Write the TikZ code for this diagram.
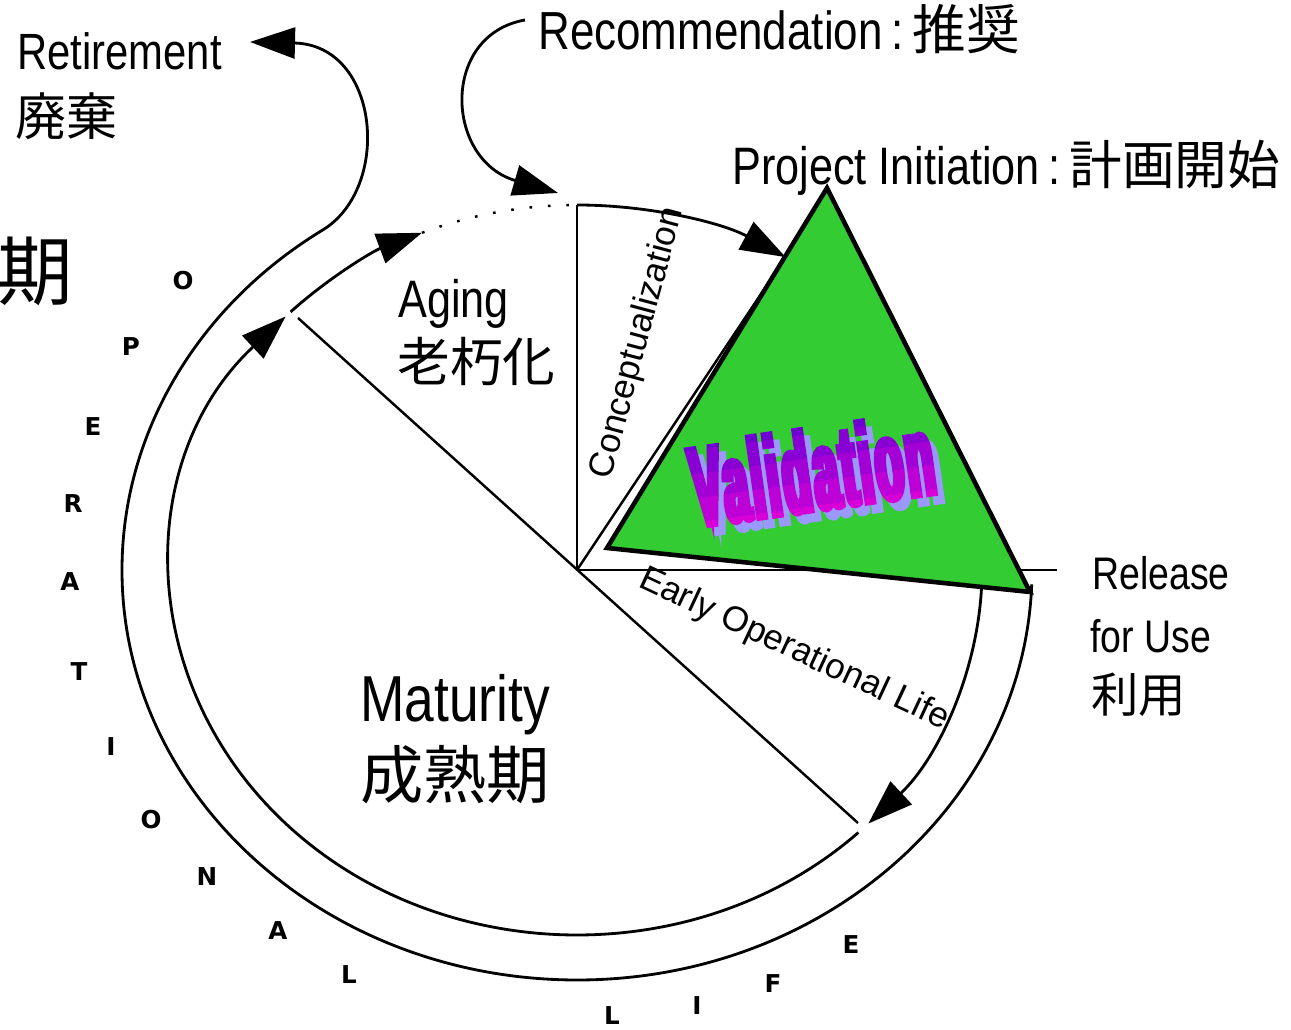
\documentclass[tikz,border=0pt]{standalone}
\usepackage{fontspec}
\setmainfont{Liberation Sans}
\newfontfamily\narrowfont{Liberation Sans}[FakeStretch=0.82]
\newfontfamily\jpfont{Noto Sans CJK JP}
\newfontfamily\letterfont{DejaVu Sans}
\newfontfamily\valfont{Liberation Sans}[FakeStretch=0.40,LetterSpace=3,BoldFeatures={FakeBold=5}]
\usetikzlibrary{arrows.meta}
\definecolor{trigreen}{HTML}{33CC33}
\definecolor{valtop}{RGB}{110,0,210}
\definecolor{valbot}{RGB}{215,0,215}
\definecolor{valshade}{HTML}{9999FF}
\tikzset{
	biglabel/.style={inner sep=0pt, font=\narrowfont\fontsize{#1}{#1}\selectfont},
	biglabel/.default=30,
	jplabel/.style={inner sep=0pt, font=\jpfont\fontsize{#1}{#1}\selectfont},
	jplabel/.default=30,
	sidelabel/.style={inner sep=0pt, font=\fontsize{20}{20}\selectfont},
	oplabel/.style={inner sep=0pt, font=\letterfont\bfseries\fontsize{14}{14}\selectfont},
	pieline/.style={line width=1.4pt},
	ringline/.style={line width=1.6pt},
	flowarrow/.style={ringline, -{Triangle[length=0.9cm,width=0.62cm]}},
	dotarc/.style={line width=1.4pt, dash pattern=on 1.5pt off 9pt},
	valtri/.style={fill=trigreen, draw=black, line width=2.6pt, line join=miter},
	valtext/.style={inner sep=0pt, transform shape, font=\valfont\bfseries\fontsize{64}{64}\selectfont},
}

\begin{document}
\begin{tikzpicture}[x=0.02cm, y=0.02cm]
	\useasboundingbox (0,0) rectangle (1291,1030);
	\coordinate (ctr) at (577,460);
	\coordinate (toparc) at (577,825);
	\coordinate (agetop) at (298,712);
	\coordinate (matend) at (858,207);
	\coordinate (relline) at (1057,460);
	\coordinate (valarc) at ({577+405*cos(59)},{460+365*sin(59)});

	\draw[pieline] (ctr) -- (toparc);
	\draw[pieline] (agetop) -- (matend);
	\draw[pieline] (ctr) -- (relline);
	\draw[pieline] (ctr) -- (valarc);

	\draw[flowarrow] (toparc) arc[start angle=90, end angle=59, x radius=405, y radius=365];
	\draw[dotarc] ({577+405*cos(112.5)},{460+365*sin(112.5)}) arc[start angle=112.5, end angle=90, x radius=405, y radius=365];
	\draw[flowarrow] ({577+405*cos(135)},{460+365*sin(135)}) arc[start angle=135, end angle=112.5, x radius=405, y radius=365];
	\draw[flowarrow] ({577+405*cos(-46)},{460+365*sin(-46)}) arc[start angle=-46, end angle=-224, x radius=405, y radius=365];
	\draw[flowarrow] ({577+405*cos(-3)},{460+365*sin(-3)}) arc[start angle=-3, end angle=-44, x radius=405, y radius=365];

	\draw[flowarrow] ({577+455*cos(-2)},{460+410*sin(-2)}) arc[start angle=-2, end angle=-236, x radius=455, y radius=410]
		.. controls (392,842) and (380,985) .. (250,988);
	\draw[flowarrow] (525,1010) .. controls (440,995) and (445,870) .. (558,837);

	\coordinate (pinit) at (827,842);
	\coordinate (pleft) at (607,482);
	\coordinate (prel) at (1030,438);
	\filldraw[valtri] (pinit) -- (pleft) -- (prel) -- cycle;

	\begin{scope}[shift={(812,560)}, rotate=8]
		\node[valtext, text=valshade] (valshadow) at (6,-9) {Validation};
		\foreach \i in {0,...,4} {
			\pgfmathtruncatemacro{\mixpc}{\i*25}
			\begin{scope}
				\clip (-170,{60-24*\i}) rectangle (170,{35-24*\i});
				\node[valtext, text=valbot!\mixpc!valtop] (val\i) at (0,0) {Validation};
			\end{scope}
		}
	\end{scope}

	\node[biglabel=29, anchor=base west] (retire) at (17,960) {Retirement};
	\node[jplabel=29, anchor=west] (retirejp) at (15,914) {廃棄};
	\node[jplabel=43, anchor=west] (kiki) at (-3,759) {期};
	\node[biglabel=30.5, anchor=base west] (recom) at (538,980) {Recommendation\,:\,{\jpfont 推奨}};
	\node[biglabel, anchor=base west] (projinit) at (732,845) {Project Initiation\,:\,{\jpfont 計画開始}};
	\node[biglabel, anchor=base west] (aging) at (398,712) {Aging};
	\node[jplabel, anchor=west] (agingjp) at (397,668) {老朽化};
	\node[biglabel=37, anchor=base west] (matur) at (360,308) {Maturity};
	\node[jplabel=36, anchor=west] (maturjp) at (360,255) {成熟期};
	\node[biglabel=26, anchor=base west] (release) at (1092,440) {Release};
	\node[biglabel=26, anchor=base west] (foruse) at (1090,377) {for Use};
	\node[jplabel=27, anchor=west] (releasejp) at (1091,335) {利用};
	\node[sidelabel, rotate=75] (concept) at (638,687) {Conceptualization};
	\node[sidelabel, rotate=-25] (earlyop) at (794,380) {Early Operational Life};

	\foreach \ch/\px/\py [count=\n] in {O/183/281, P/131/347, E/93/427, R/73/504, A/70/582, T/79/672, I/111/747, O/151/820, N/207/877, A/278/931, L/349/975, L/612/1016, I/697/1006, F/773/984, E/851/945}
		\node[oplabel] (oplet\n) at (\px,{1030-\py}) {\ch};
\end{tikzpicture}
\end{document}
